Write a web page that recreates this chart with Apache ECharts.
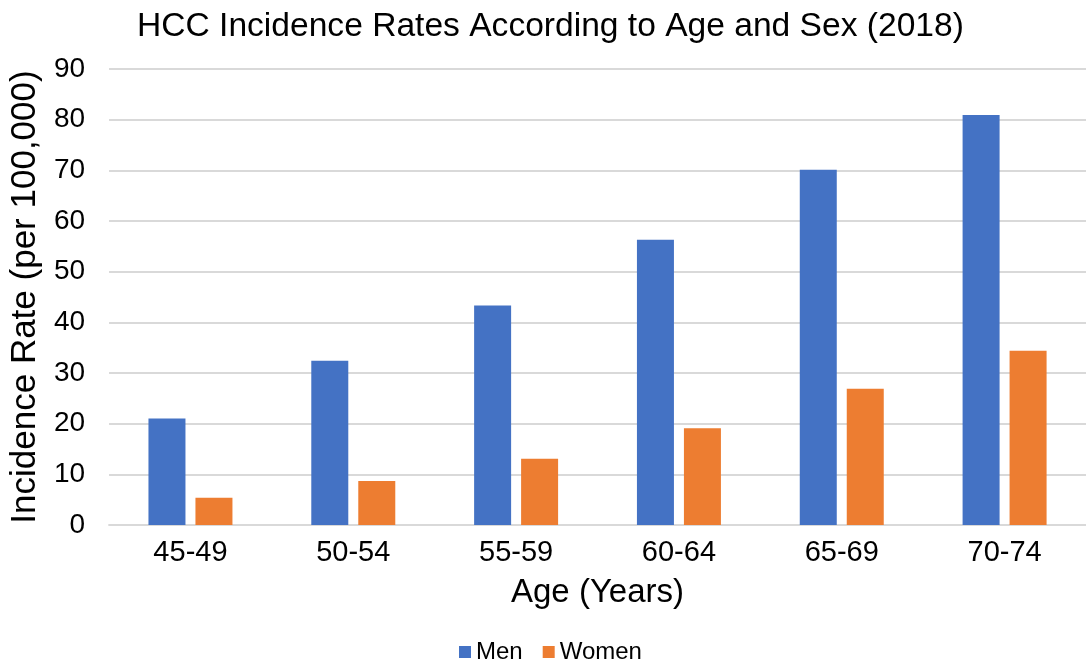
<!DOCTYPE html>
<html><head><meta charset="utf-8">
<script src="https://cdn.jsdelivr.net/npm/echarts@6/dist/echarts.min.js"></script>
<style>html,body{margin:0;padding:0;background:#fff}#c{width:1086px;height:663px}</style>
</head><body><div id="c"></div>
<script>
const categories = ['45-49','50-54','55-59','60-64','65-69','70-74'];
const men = [21.0, 32.4, 43.3, 56.3, 70.1, 80.9];
const women = [5.4, 8.7, 13.1, 19.1, 26.9, 34.4];
const yTicks = {min: 0, max: 90, interval: 10};

const font = 'Liberation Sans, Arial, Helvetica, sans-serif';
const chart = echarts.init(document.getElementById('c'), null, {renderer: 'canvas'});
chart.setOption({
  animation: false,
  textStyle: {fontFamily: font},
  title: {text: 'HCC Incidence Rates According to Age and Sex (2018)', left: 132, top: 5,
    textStyle: {fontFamily: font, fontSize: 33.6, fontWeight: 'normal', color: '#000'}},
  legend: {left: 454, bottom: -6, itemWidth: 12, itemHeight: 12, itemGap: 20, icon: 'rect',
    textStyle: {fontFamily: font, fontSize: 24, color: '#000'}},
  grid: {left: 107, right: -8, top: 69, bottom: 138, containLabel: false},
  xAxis: {type: 'category', data: categories,
    name: 'Age (Years)', nameLocation: 'middle', nameGap: 51,
    nameTextStyle: {fontFamily: font, fontSize: 33, color: '#000'},
    axisLine: {show: true, lineStyle: {color: '#d9d9d9', width: 2}},
    axisTick: {show: false},
    axisLabel: {fontFamily: font, fontSize: 29, color: '#000', margin: 13}},
  yAxis: {type: 'value', min: yTicks.min, max: yTicks.max, interval: yTicks.interval,
    name: 'Incidence Rate (per 100,000)', nameLocation: 'middle', nameGap: 61,
    nameTextStyle: {fontFamily: font, fontSize: 35, color: '#000'},
    axisLine: {show: false}, axisTick: {show: false},
    splitLine: {lineStyle: {color: '#d9d9d9', width: 2}},
    axisLabel: {fontFamily: font, fontSize: 28, color: '#000', margin: 24}},
  series: [
    {name: 'Men', type: 'bar', data: men, barWidth: 37, barGap: '27%', itemStyle: {color: '#4472C4'}},
    {name: 'Women', type: 'bar', data: women, barWidth: 37, itemStyle: {color: '#ED7D31'}}
  ]
});
</script></body></html>
